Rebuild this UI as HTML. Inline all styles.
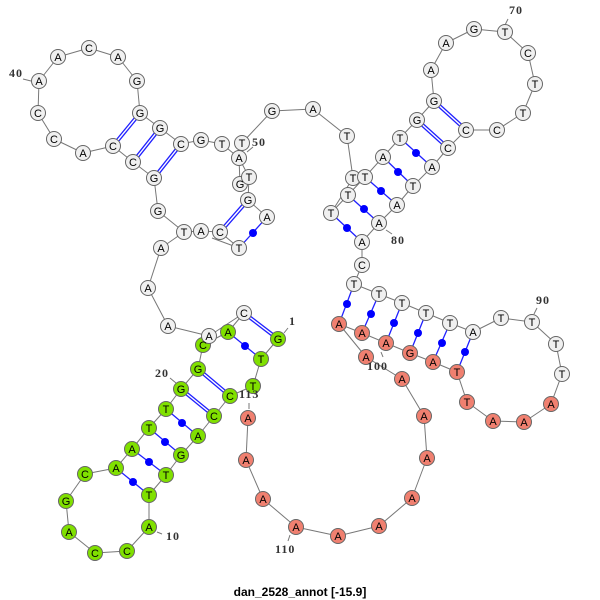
<!DOCTYPE html>
<html><head><meta charset="utf-8"><style>
body{margin:0;background:#fff}
svg{display:block}
.b line{stroke:#777;stroke-width:1}
.dp line{stroke:#2020ff;stroke-width:1.3}
.dbl line{stroke:#2020ff;stroke-width:4}
.dbw line{stroke:#fff;stroke-width:1.4}
.n circle{stroke:#666;stroke-width:1}
.w{fill:#f0f0f0}.g{fill:#80e000}.r{fill:#f08070}
.n text{font-family:"Liberation Sans",sans-serif;font-size:11px;text-anchor:middle;fill:#000}
.lb{font-family:"Liberation Serif",serif;font-size:12px;font-weight:bold;fill:#333;letter-spacing:1px}
</style></head><body>
<svg width="600" height="600" viewBox="0 0 600 600">
<g class="b">
<line x1="278" y1="339" x2="261" y2="359"/><line x1="261" y1="359" x2="253" y2="386"/><line x1="253" y1="386" x2="230" y2="396"/><line x1="230" y1="396" x2="214" y2="416"/><line x1="214" y1="416" x2="198" y2="436"/><line x1="198" y1="436" x2="181" y2="455"/><line x1="181" y1="455" x2="166" y2="475"/><line x1="166" y1="475" x2="149" y2="495"/><line x1="149" y1="495" x2="149" y2="527"/><line x1="149" y1="527" x2="127" y2="551"/><line x1="127" y1="551" x2="95" y2="553"/><line x1="95" y1="553" x2="69" y2="532"/><line x1="69" y1="532" x2="66" y2="501"/><line x1="66" y1="501" x2="85" y2="474"/><line x1="85" y1="474" x2="116" y2="468"/><line x1="116" y1="468" x2="132" y2="449"/><line x1="132" y1="449" x2="149" y2="428"/><line x1="149" y1="428" x2="166" y2="409"/><line x1="166" y1="409" x2="181" y2="389"/><line x1="181" y1="389" x2="198" y2="369"/><line x1="198" y1="369" x2="203" y2="345"/><line x1="203" y1="345" x2="228" y2="332"/><line x1="228" y1="332" x2="244" y2="313"/><line x1="244" y1="313" x2="209" y2="336"/><line x1="209" y1="336" x2="168" y2="326"/><line x1="168" y1="326" x2="148" y2="288"/><line x1="148" y1="288" x2="161" y2="248"/><line x1="161" y1="248" x2="184" y2="232"/><line x1="184" y1="232" x2="201" y2="231"/><line x1="201" y1="231" x2="220" y2="232"/><line x1="220" y1="232" x2="239" y2="248"/><line x1="212" y1="238" x2="239" y2="248"/><line x1="267" y1="217" x2="248" y2="200"/><line x1="248" y1="200" x2="249" y2="177"/><line x1="249" y1="177" x2="239" y2="158"/><line x1="239" y1="158" x2="240" y2="184"/>
<line x1="184" y1="232" x2="158" y2="211"/><line x1="158" y1="211" x2="154" y2="178"/><line x1="154" y1="178" x2="133" y2="162"/><line x1="133" y1="162" x2="113" y2="146"/><line x1="113" y1="146" x2="83" y2="153"/><line x1="83" y1="153" x2="54" y2="139"/><line x1="54" y1="139" x2="38" y2="113"/><line x1="38" y1="113" x2="39" y2="81"/><line x1="39" y1="81" x2="58" y2="57"/><line x1="58" y1="57" x2="89" y2="48"/><line x1="89" y1="48" x2="118" y2="57"/><line x1="118" y1="57" x2="137" y2="81"/><line x1="137" y1="81" x2="140" y2="113"/><line x1="140" y1="113" x2="160" y2="128"/><line x1="160" y1="128" x2="181" y2="144"/><line x1="181" y1="144" x2="201" y2="140"/><line x1="201" y1="140" x2="222" y2="144"/><line x1="222" y1="144" x2="239" y2="158"/><line x1="239" y1="158" x2="242" y2="143"/><line x1="242" y1="143" x2="272" y2="111"/><line x1="272" y1="111" x2="313" y2="109"/><line x1="313" y1="109" x2="347" y2="136"/><line x1="347" y1="136" x2="353" y2="178"/><line x1="353" y1="178" x2="331" y2="213"/>
<line x1="331" y1="213" x2="348" y2="195"/><line x1="348" y1="195" x2="365" y2="177"/><line x1="365" y1="177" x2="383" y2="157"/><line x1="383" y1="157" x2="400" y2="138"/><line x1="400" y1="138" x2="417" y2="120"/><line x1="417" y1="120" x2="434" y2="101"/><line x1="434" y1="101" x2="431" y2="70"/><line x1="431" y1="70" x2="446" y2="43"/><line x1="446" y1="43" x2="474" y2="29"/><line x1="474" y1="29" x2="505" y2="32"/><line x1="505" y1="32" x2="528" y2="53"/><line x1="528" y1="53" x2="535" y2="84"/><line x1="535" y1="84" x2="523" y2="113"/><line x1="523" y1="113" x2="497" y2="130"/><line x1="497" y1="130" x2="466" y2="130"/><line x1="466" y1="130" x2="448" y2="148"/><line x1="448" y1="148" x2="432" y2="167"/><line x1="432" y1="167" x2="413" y2="186"/><line x1="413" y1="186" x2="397" y2="205"/><line x1="397" y1="205" x2="379" y2="223"/><line x1="379" y1="223" x2="362" y2="242"/><line x1="362" y1="242" x2="362" y2="265"/><line x1="362" y1="265" x2="354" y2="284"/>
<line x1="354" y1="284" x2="379" y2="294"/><line x1="379" y1="294" x2="402" y2="303"/><line x1="402" y1="303" x2="426" y2="313"/><line x1="426" y1="313" x2="450" y2="323"/><line x1="450" y1="323" x2="473" y2="332"/><line x1="473" y1="332" x2="501" y2="318"/><line x1="501" y1="318" x2="532" y2="322"/><line x1="532" y1="322" x2="556" y2="344"/><line x1="556" y1="344" x2="562" y2="374"/><line x1="562" y1="374" x2="551" y2="404"/><line x1="551" y1="404" x2="524" y2="422"/><line x1="524" y1="422" x2="493" y2="421"/><line x1="493" y1="421" x2="467" y2="402"/><line x1="467" y1="402" x2="457" y2="372"/><line x1="457" y1="372" x2="433" y2="362"/><line x1="433" y1="362" x2="410" y2="353"/><line x1="410" y1="353" x2="386" y2="343"/><line x1="386" y1="343" x2="362" y2="333"/><line x1="362" y1="333" x2="339" y2="324"/><line x1="339" y1="324" x2="366" y2="357"/><line x1="366" y1="357" x2="402" y2="379"/><line x1="402" y1="379" x2="424" y2="416"/><line x1="424" y1="416" x2="427" y2="458"/><line x1="427" y1="458" x2="412" y2="498"/><line x1="412" y1="498" x2="379" y2="526"/><line x1="379" y1="526" x2="338" y2="536"/><line x1="338" y1="536" x2="296" y2="527"/><line x1="296" y1="527" x2="263" y2="499"/><line x1="263" y1="499" x2="246" y2="460"/><line x1="246" y1="460" x2="248" y2="418"/>
<!-- ticks -->
<line x1="23" y1="79" x2="31" y2="81"/><line x1="508" y1="19" x2="505" y2="25"/><line x1="247" y1="152" x2="253" y2="147"/><line x1="386" y1="230" x2="392" y2="234"/><line x1="537" y1="308" x2="534" y2="314"/><line x1="284" y1="333" x2="288" y2="328"/><line x1="170" y1="378" x2="176" y2="383"/><line x1="249" y1="403" x2="249" y2="409"/><line x1="381" y1="352" x2="383" y2="357"/><line x1="157" y1="532" x2="162" y2="534"/><line x1="290" y1="535" x2="288" y2="541"/>
</g>
<g class="dbl">
<line x1="278" y1="339" x2="244" y2="313"/><line x1="230" y1="396" x2="198" y2="369"/><line x1="214" y1="416" x2="181" y2="389"/><line x1="248" y1="200" x2="220" y2="232"/><line x1="113" y1="146" x2="140" y2="113"/><line x1="133" y1="162" x2="160" y2="128"/><line x1="154" y1="178" x2="181" y2="144"/><line x1="434" y1="101" x2="466" y2="130"/><line x1="417" y1="120" x2="448" y2="148"/>
</g>
<g class="dbw">
<line x1="278" y1="339" x2="244" y2="313"/><line x1="230" y1="396" x2="198" y2="369"/><line x1="214" y1="416" x2="181" y2="389"/><line x1="248" y1="200" x2="220" y2="232"/><line x1="113" y1="146" x2="140" y2="113"/><line x1="133" y1="162" x2="160" y2="128"/><line x1="154" y1="178" x2="181" y2="144"/><line x1="434" y1="101" x2="466" y2="130"/><line x1="417" y1="120" x2="448" y2="148"/>
</g>
<g class="dp">
<line x1="261" y1="359" x2="228" y2="332"/><line x1="198" y1="436" x2="166" y2="409"/><line x1="181" y1="455" x2="149" y2="428"/><line x1="166" y1="475" x2="132" y2="449"/><line x1="149" y1="495" x2="116" y2="468"/><line x1="239" y1="248" x2="267" y2="217"/><line x1="400" y1="138" x2="432" y2="167"/><line x1="383" y1="157" x2="413" y2="186"/><line x1="365" y1="177" x2="397" y2="205"/><line x1="348" y1="195" x2="379" y2="223"/><line x1="331" y1="213" x2="362" y2="242"/><line x1="354" y1="284" x2="339" y2="324"/><line x1="379" y1="294" x2="362" y2="333"/><line x1="402" y1="303" x2="386" y2="343"/><line x1="426" y1="313" x2="410" y2="353"/><line x1="450" y1="323" x2="433" y2="362"/><line x1="473" y1="332" x2="457" y2="372"/>
</g>
<g fill="#0000ff">
<circle cx="245" cy="346" r="4"/><circle cx="182" cy="423" r="4"/><circle cx="165" cy="442" r="4"/><circle cx="149" cy="462" r="4"/><circle cx="133" cy="482" r="4"/><circle cx="253" cy="233" r="4"/><circle cx="416" cy="153" r="4"/><circle cx="398" cy="172" r="4"/><circle cx="381" cy="191" r="4"/><circle cx="364" cy="209" r="4"/><circle cx="347" cy="228" r="4"/><circle cx="347" cy="304" r="4"/><circle cx="371" cy="314" r="4"/><circle cx="394" cy="323" r="4"/><circle cx="418" cy="333" r="4"/><circle cx="442" cy="343" r="4"/><circle cx="465" cy="352" r="4"/>
</g>
<g class="n">
<g class="g">
<circle cx="278" cy="339" r="7.5"/><circle cx="261" cy="359" r="7.5"/><circle cx="253" cy="386" r="7.5"/><circle cx="230" cy="396" r="7.5"/><circle cx="214" cy="416" r="7.5"/><circle cx="198" cy="436" r="7.5"/><circle cx="181" cy="455" r="7.5"/><circle cx="166" cy="475" r="7.5"/><circle cx="149" cy="495" r="7.5"/><circle cx="149" cy="527" r="7.5"/><circle cx="127" cy="551" r="7.5"/><circle cx="95" cy="553" r="7.5"/><circle cx="69" cy="532" r="7.5"/><circle cx="66" cy="501" r="7.5"/><circle cx="85" cy="474" r="7.5"/><circle cx="116" cy="468" r="7.5"/><circle cx="132" cy="449" r="7.5"/><circle cx="149" cy="428" r="7.5"/><circle cx="166" cy="409" r="7.5"/><circle cx="181" cy="389" r="7.5"/><circle cx="198" cy="369" r="7.5"/><circle cx="203" cy="345" r="7.5"/><circle cx="228" cy="332" r="7.5"/>
</g>
<g class="w">
<circle cx="244" cy="313" r="7.5"/><circle cx="209" cy="336" r="7.5"/><circle cx="168" cy="326" r="7.5"/><circle cx="148" cy="288" r="7.5"/><circle cx="161" cy="248" r="7.5"/><circle cx="184" cy="232" r="7.5"/><circle cx="201" cy="231" r="7.5"/><circle cx="220" cy="232" r="7.5"/><circle cx="239" cy="248" r="7.5"/><circle cx="267" cy="217" r="7.5"/><circle cx="248" cy="200" r="7.5"/><circle cx="240" cy="184" r="7.5"/><circle cx="249" cy="177" r="7.5"/><circle cx="239" cy="158" r="7.5"/><circle cx="242" cy="143" r="7.5"/>
<circle cx="158" cy="211" r="7.5"/><circle cx="154" cy="178" r="7.5"/><circle cx="133" cy="162" r="7.5"/><circle cx="113" cy="146" r="7.5"/><circle cx="83" cy="153" r="7.5"/><circle cx="54" cy="139" r="7.5"/><circle cx="38" cy="113" r="7.5"/><circle cx="39" cy="81" r="7.5"/><circle cx="58" cy="57" r="7.5"/><circle cx="89" cy="48" r="7.5"/><circle cx="118" cy="57" r="7.5"/><circle cx="137" cy="81" r="7.5"/><circle cx="140" cy="113" r="7.5"/><circle cx="160" cy="128" r="7.5"/><circle cx="181" cy="144" r="7.5"/><circle cx="201" cy="140" r="7.5"/><circle cx="222" cy="144" r="7.5"/>
<circle cx="272" cy="111" r="7.5"/><circle cx="313" cy="109" r="7.5"/><circle cx="347" cy="136" r="7.5"/><circle cx="353" cy="178" r="7.5"/><circle cx="331" cy="213" r="7.5"/><circle cx="348" cy="195" r="7.5"/><circle cx="365" cy="177" r="7.5"/><circle cx="383" cy="157" r="7.5"/><circle cx="400" cy="138" r="7.5"/><circle cx="417" cy="120" r="7.5"/><circle cx="434" cy="101" r="7.5"/><circle cx="431" cy="70" r="7.5"/><circle cx="446" cy="43" r="7.5"/><circle cx="474" cy="29" r="7.5"/><circle cx="505" cy="32" r="7.5"/><circle cx="528" cy="53" r="7.5"/><circle cx="535" cy="84" r="7.5"/><circle cx="523" cy="113" r="7.5"/><circle cx="497" cy="130" r="7.5"/><circle cx="466" cy="130" r="7.5"/><circle cx="448" cy="148" r="7.5"/><circle cx="432" cy="167" r="7.5"/><circle cx="413" cy="186" r="7.5"/><circle cx="397" cy="205" r="7.5"/><circle cx="379" cy="223" r="7.5"/><circle cx="362" cy="242" r="7.5"/><circle cx="362" cy="265" r="7.5"/>
<circle cx="354" cy="284" r="7.5"/><circle cx="379" cy="294" r="7.5"/><circle cx="402" cy="303" r="7.5"/><circle cx="426" cy="313" r="7.5"/><circle cx="450" cy="323" r="7.5"/><circle cx="473" cy="332" r="7.5"/><circle cx="501" cy="318" r="7.5"/><circle cx="532" cy="322" r="7.5"/><circle cx="556" cy="344" r="7.5"/><circle cx="562" cy="374" r="7.5"/>
</g>
<g class="r">
<circle cx="551" cy="404" r="7.5"/><circle cx="524" cy="422" r="7.5"/><circle cx="493" cy="421" r="7.5"/><circle cx="467" cy="402" r="7.5"/><circle cx="457" cy="372" r="7.5"/><circle cx="433" cy="362" r="7.5"/><circle cx="410" cy="353" r="7.5"/><circle cx="386" cy="343" r="7.5"/><circle cx="362" cy="333" r="7.5"/><circle cx="339" cy="324" r="7.5"/><circle cx="366" cy="357" r="7.5"/><circle cx="402" cy="379" r="7.5"/><circle cx="424" cy="416" r="7.5"/><circle cx="427" cy="458" r="7.5"/><circle cx="412" cy="498" r="7.5"/><circle cx="379" cy="526" r="7.5"/><circle cx="338" cy="536" r="7.5"/><circle cx="296" cy="527" r="7.5"/><circle cx="263" cy="499" r="7.5"/><circle cx="246" cy="460" r="7.5"/><circle cx="248" cy="418" r="7.5"/>
</g>
<text x="278" y="343">G</text><text x="261" y="363">T</text><text x="253" y="390">T</text><text x="230" y="400">C</text><text x="214" y="420">C</text><text x="198" y="440">A</text><text x="181" y="459">G</text><text x="166" y="479">T</text><text x="149" y="499">T</text><text x="149" y="531">A</text><text x="127" y="555">C</text><text x="95" y="557">C</text><text x="69" y="536">A</text><text x="66" y="505">G</text><text x="85" y="478">C</text><text x="116" y="472">A</text><text x="132" y="453">A</text><text x="149" y="432">T</text><text x="166" y="413">T</text><text x="181" y="393">G</text><text x="198" y="373">G</text><text x="203" y="349">C</text><text x="228" y="336">A</text>
<text x="244" y="317">C</text><text x="209" y="340">A</text><text x="168" y="330">A</text><text x="148" y="292">A</text><text x="161" y="252">A</text><text x="184" y="236">T</text><text x="201" y="235">A</text><text x="220" y="236">C</text><text x="239" y="252">T</text><text x="267" y="221">A</text><text x="248" y="204">G</text><text x="240" y="188">G</text><text x="249" y="181">T</text><text x="239" y="162">A</text><text x="242" y="147">T</text>
<text x="158" y="215">G</text><text x="154" y="182">G</text><text x="133" y="166">C</text><text x="113" y="150">C</text><text x="83" y="157">A</text><text x="54" y="143">C</text><text x="38" y="117">C</text><text x="39" y="85">A</text><text x="58" y="61">A</text><text x="89" y="52">C</text><text x="118" y="61">A</text><text x="137" y="85">G</text><text x="140" y="117">G</text><text x="160" y="132">G</text><text x="181" y="148">C</text><text x="201" y="144">G</text><text x="222" y="148">T</text>
<text x="272" y="115">G</text><text x="313" y="113">A</text><text x="347" y="140">T</text><text x="353" y="182">T</text><text x="331" y="217">T</text><text x="348" y="199">T</text><text x="365" y="181">T</text><text x="383" y="161">A</text><text x="400" y="142">T</text><text x="417" y="124">G</text><text x="434" y="105">G</text><text x="431" y="74">A</text><text x="446" y="47">A</text><text x="474" y="33">G</text><text x="505" y="36">T</text><text x="528" y="57">C</text><text x="535" y="88">T</text><text x="523" y="117">T</text><text x="497" y="134">C</text><text x="466" y="134">C</text><text x="448" y="152">C</text><text x="432" y="171">A</text><text x="413" y="190">T</text><text x="397" y="209">A</text><text x="379" y="227">A</text><text x="362" y="246">A</text><text x="362" y="269">C</text>
<text x="354" y="288">T</text><text x="379" y="298">T</text><text x="402" y="307">T</text><text x="426" y="317">T</text><text x="450" y="327">T</text><text x="473" y="336">A</text><text x="501" y="322">T</text><text x="532" y="326">T</text><text x="556" y="348">T</text><text x="562" y="378">T</text>
<text x="551" y="408">A</text><text x="524" y="426">A</text><text x="493" y="425">A</text><text x="467" y="406">T</text><text x="457" y="376">T</text><text x="433" y="366">A</text><text x="410" y="357">G</text><text x="386" y="347">A</text><text x="362" y="337">A</text><text x="339" y="328">A</text><text x="366" y="361">A</text><text x="402" y="383">A</text><text x="424" y="420">A</text><text x="427" y="462">A</text><text x="412" y="502">A</text><text x="379" y="530">A</text><text x="338" y="540">A</text><text x="296" y="531">A</text><text x="263" y="503">A</text><text x="246" y="464">A</text><text x="248" y="422">A</text>
</g>
<text class="lb" x="9" y="77">40</text>
<text class="lb" x="509" y="14">70</text>
<text class="lb" x="252" y="146">50</text>
<text class="lb" x="391" y="244">80</text>
<text class="lb" x="536" y="304">90</text>
<text class="lb" x="289" y="325">1</text>
<text class="lb" x="155" y="377">20</text>
<text class="lb" x="239" y="398">113</text>
<text class="lb" x="367" y="370">100</text>
<text class="lb" x="166" y="540">10</text>
<text class="lb" x="275" y="553">110</text>
<text x="300" y="596" text-anchor="middle" font-family="Liberation Sans, sans-serif" font-size="12" font-weight="bold" fill="#000">dan_2528_annot [-15.9]</text>
</svg>
</body></html>
